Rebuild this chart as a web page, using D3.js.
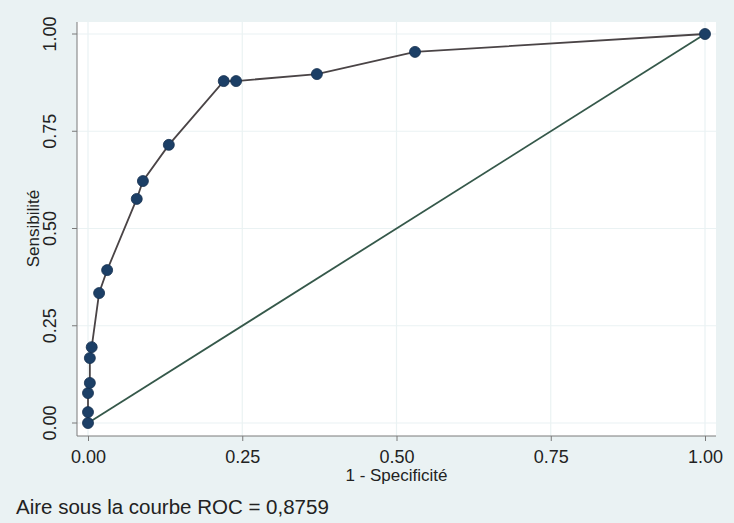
<!DOCTYPE html>
<html>
<head>
<meta charset="utf-8">
<script src="https://cdn.jsdelivr.net/npm/d3@7"></script>
<style>
  body { margin: 0; background: #eaf2f3; }
  svg { display: block; }
</style>
</head>
<body>
<svg></svg>
<script>
// ROC points: 1 - specificity, sensitivity
const fpr = [0, 0, 0, 0.003, 0.003, 0.006, 0.018, 0.031, 0.079, 0.089, 0.131, 0.220, 0.240, 0.371, 0.530, 1];
const tpr = [0, 0.028, 0.077, 0.103, 0.167, 0.195, 0.334, 0.393, 0.576, 0.622, 0.715, 0.879, 0.879, 0.897, 0.954, 1];
const ref_line = [[0, 0], [1, 1]];
const ticks = [0, 0.25, 0.5, 0.75, 1];
const x_title = "1 - Specificité";
const y_title = "Sensibilité";
const note = "Aire sous la courbe ROC = 0,8759";

const svg_width = 734;
const svg_height = 523;
const svg = d3.select("svg")
    .attr("width", svg_width)
    .attr("height", svg_height)
    .style("font-family", "'Liberation Sans', Arial, sans-serif");

const fmt = d3.format(".2f");

// plot region
const region = {left: 77, right: 716, top: 22, bottom: 436};

const x = d3.scaleLinear().domain([0, 1]).range([88, 705]);
const y = d3.scaleLinear().domain([0, 1]).range([423, 34]);

svg.append("rect")
    .attr("x", region.left)
    .attr("y", region.top)
    .attr("width", region.right - region.left)
    .attr("height", region.bottom - region.top)
    .attr("fill", "white");

// grid
svg.append("g").selectAll("line")
    .data(ticks)
    .join("line")
    .attr("x1", region.left).attr("x2", region.right)
    .attr("y1", d => y(d)).attr("y2", d => y(d))
    .attr("stroke", "#eaf2f3")
    .attr("stroke-width", 1.2);

svg.append("g").selectAll("line")
    .data(ticks)
    .join("line")
    .attr("y1", region.top).attr("y2", region.bottom)
    .attr("x1", d => x(d)).attr("x2", d => x(d))
    .attr("stroke", "#eaf2f3")
    .attr("stroke-width", 1.2);

// axes
const xAxis = d3.axisBottom(x).tickValues(ticks).tickFormat(fmt).tickSize(5).tickPadding(9);
const yAxis = d3.axisLeft(y).tickValues(ticks).tickFormat(fmt).tickSize(5).tickPadding(5);

const gx = svg.append("g")
    .attr("transform", `translate(0,${region.bottom})`)
    .call(xAxis);
gx.select(".domain").remove();
gx.append("line")
    .attr("x1", region.left).attr("x2", region.right)
    .attr("stroke", "#7a7a7a");

const gy = svg.append("g")
    .attr("transform", `translate(${region.left},0)`)
    .call(yAxis);
gy.select(".domain").remove();
gy.append("line")
    .attr("y1", region.top).attr("y2", region.bottom)
    .attr("stroke", "#7a7a7a");

svg.selectAll(".tick line").attr("stroke", "#7a7a7a");
svg.selectAll(".tick text")
    .attr("fill", "#222")
    .style("font-size", "18px");

gy.selectAll(".tick text")
    .attr("text-anchor", "middle")
    .attr("x", null)
    .attr("dy", null)
    .attr("transform", d => `translate(-26,${y(d)}) rotate(-90)`)
    .attr("y", 0)
    .attr("dominant-baseline", "middle");
gy.selectAll(".tick").attr("transform", null);
gy.selectAll(".tick line")
    .attr("y1", d => y(d)).attr("y2", d => y(d));

// titles
svg.append("text")
    .attr("x", (region.left + region.right) / 2)
    .attr("y", 481)
    .attr("text-anchor", "middle")
    .attr("fill", "#222")
    .style("font-size", "17px")
    .text(x_title);

svg.append("text")
    .attr("transform", `translate(39,${y(0.5)}) rotate(-90)`)
    .attr("text-anchor", "middle")
    .attr("fill", "#222")
    .style("font-size", "17px")
    .text(y_title);

svg.append("text")
    .attr("x", 16)
    .attr("y", 514)
    .attr("fill", "#222")
    .style("font-size", "20.5px")
    .text(note);

// reference line
svg.append("line")
    .attr("x1", x(ref_line[0][0])).attr("y1", y(ref_line[0][1]))
    .attr("x2", x(ref_line[1][0])).attr("y2", y(ref_line[1][1]))
    .attr("stroke", "#35584a")
    .attr("stroke-width", 1.8);

// roc curve
const pts = fpr.map((d, i) => [d, tpr[i]]);
svg.append("path")
    .datum(pts)
    .attr("d", d3.line().x(d => x(d[0])).y(d => y(d[1])))
    .attr("fill", "none")
    .attr("stroke", "#4a4446")
    .attr("stroke-width", 1.8);

svg.append("g").selectAll("circle")
    .data(pts)
    .join("circle")
    .attr("cx", d => x(d[0]))
    .attr("cy", d => y(d[1]))
    .attr("r", 5.5)
    .attr("fill", "#1c3f66")
    .attr("stroke", "#15304f")
    .attr("stroke-width", 0.8);
</script>
</body>
</html>
